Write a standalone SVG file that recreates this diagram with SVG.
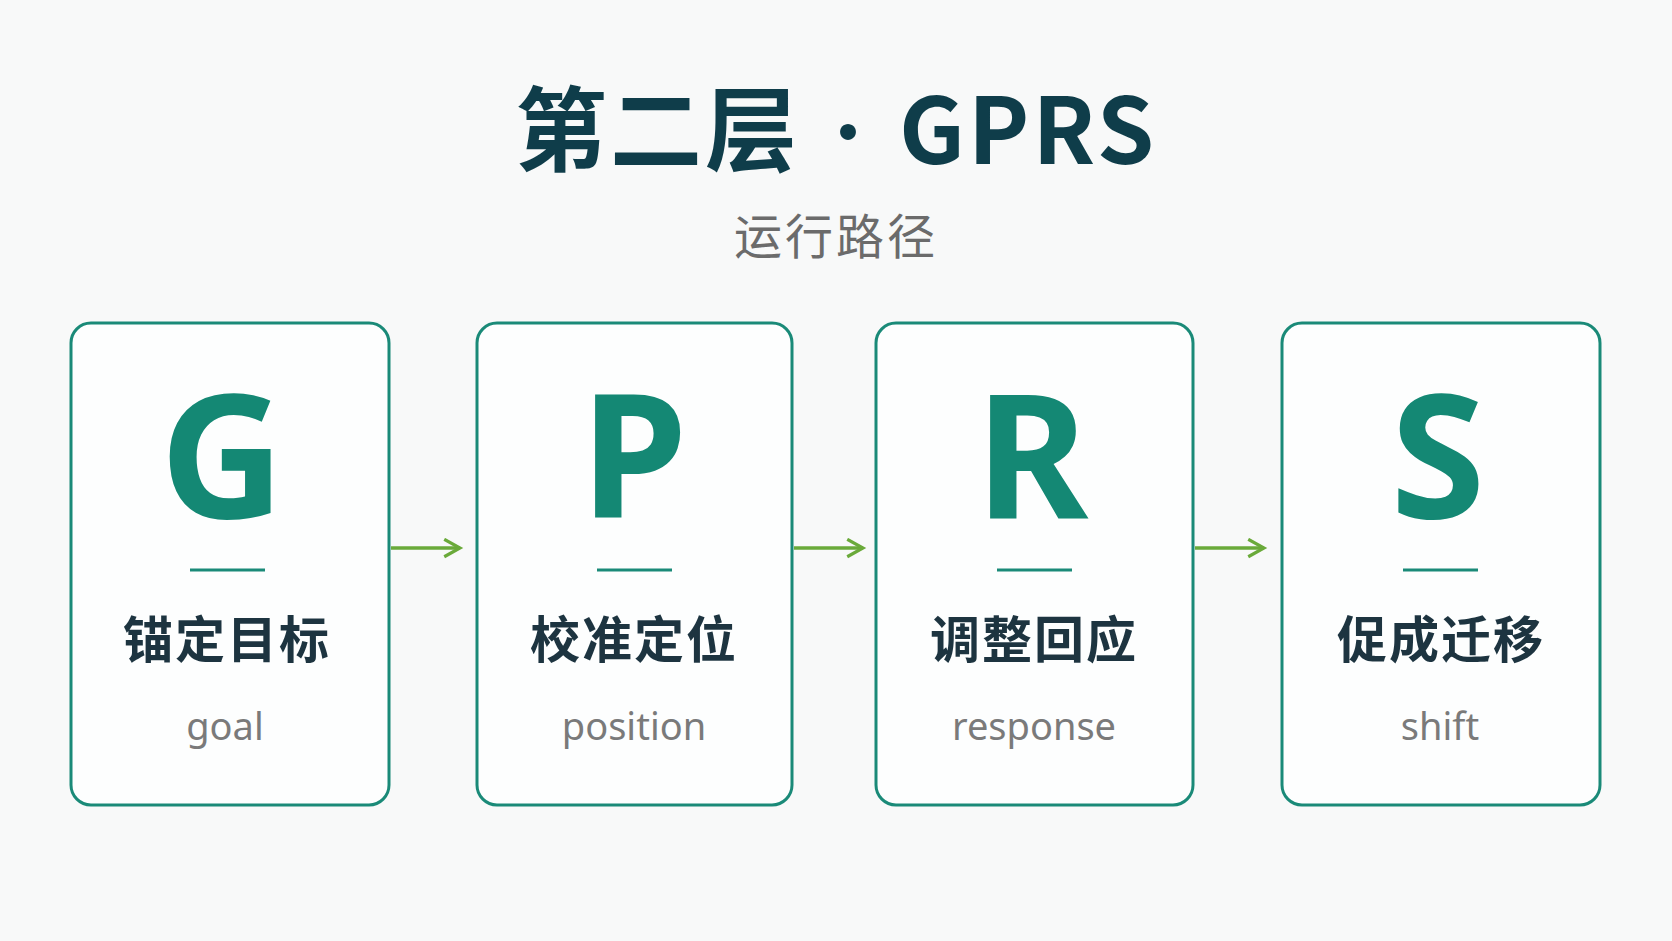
<svg xmlns="http://www.w3.org/2000/svg" width="1672" height="941" viewBox="0 0 1672 941">
<defs>
<style>
.box{fill:#fdfefe;stroke:#1a8a78;stroke-width:3}
.big{font-family:"Noto Sans","Open Sans",sans-serif;font-weight:700;font-size:172px;fill:#148874;text-anchor:middle}
.cn{font-family:"Noto Sans CJK SC",sans-serif;font-weight:700;font-size:50px;letter-spacing:2px;fill:#1d3440;text-anchor:middle}
.en{font-family:"Noto Sans","Open Sans",sans-serif;font-size:38px;fill:#7a7a7a;text-anchor:middle}
.rule{stroke:#1a8a78;stroke-width:3}
.arr{stroke:#6aaa3a;stroke-width:3.5;fill:none}
</style>
<marker id="ah" viewBox="0 0 12 12" refX="10" refY="6" markerWidth="6" markerHeight="6" orient="auto" markerUnits="strokeWidth"><path d="M1 1 L10 6 L1 11" fill="none" stroke="#6aaa3a" stroke-width="1.8"/></marker>
</defs>
<rect width="1672" height="941" fill="#f8f9f9"/>
<text x="836" y="164" font-family="Noto Sans CJK SC,sans-serif" font-weight="700" font-size="92" letter-spacing="3" fill="#0f3d4a" text-anchor="middle">第二层<tspan font-size="62" dy="-8"> · </tspan><tspan dy="8">GPRS</tspan></text>
<text x="836" y="254" font-family="Noto Sans CJK SC,sans-serif" font-size="48" letter-spacing="3" fill="#6b6b6b" text-anchor="middle">运行路径</text>
<g id="connectors">
<line class="arr" x1="391" y1="548" x2="460" y2="548" marker-end="url(#ah)"/>
<line class="arr" x1="794" y1="548" x2="863" y2="548" marker-end="url(#ah)"/>
<line class="arr" x1="1195" y1="548" x2="1264" y2="548" marker-end="url(#ah)"/>
</g>
<g id="node-g"><rect class="box" x="71" y="323" width="318" height="482" rx="20"/><text class="big" x="222" y="518">G</text><line class="rule" x1="190" y1="570" x2="265" y2="570"/><text class="cn" x="227" y="658">锚定目标</text><text class="en" x="225" y="740">goal</text></g>
<g id="node-p"><rect class="box" x="477" y="323" width="315" height="482" rx="20"/><text class="big" x="634" y="518">P</text><line class="rule" x1="597" y1="570" x2="672" y2="570"/><text class="cn" x="634" y="658">校准定位</text><text class="en" x="634" y="740">position</text></g>
<g id="node-r"><rect class="box" x="876" y="323" width="317" height="482" rx="20"/><text class="big" x="1032" y="518">R</text><line class="rule" x1="997" y1="570" x2="1072" y2="570"/><text class="cn" x="1034" y="658">调整回应</text><text class="en" x="1034" y="740">response</text></g>
<g id="node-s"><rect class="box" x="1282" y="323" width="318" height="482" rx="20"/><text class="big" x="1438" y="518">S</text><line class="rule" x1="1403" y1="570" x2="1478" y2="570"/><text class="cn" x="1441" y="658">促成迁移</text><text class="en" x="1440" y="740">shift</text></g>
</svg>
